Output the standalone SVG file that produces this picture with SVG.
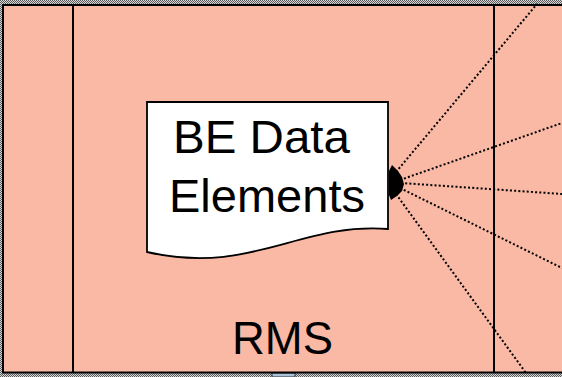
<svg xmlns="http://www.w3.org/2000/svg" width="562" height="377" viewBox="0 0 562 377">
<style>
.lane{stroke:#000;stroke-width:2;fill:none}
.dot{stroke:#000;stroke-width:2;stroke-dasharray:2 2.2;fill:none}
.lbl{font-family:"Liberation Sans",Arial,sans-serif;fill:#000;font-size:47px}
</style>
<defs>
<pattern id="chk" width="2" height="2" patternUnits="userSpaceOnUse">
<rect width="2" height="2" fill="#d8d8d8"/>
<rect width="1" height="1" fill="#5a5a5a"/>
<rect x="1" y="1" width="1" height="1" fill="#5a5a5a"/>
</pattern>
</defs>
<rect width="562" height="377" fill="url(#chk)"/>
<rect x="272" y="373" width="23" height="4" fill="#a9c2da" stroke="#333" stroke-width="1"/>
<g id="rms">
<rect x="3" y="5" width="562" height="367.5" fill="#f9b9a5" stroke="#000" stroke-width="2"/>
<line class="lane" x1="73" y1="5" x2="73" y2="372.5"/>
<line class="lane" x1="494" y1="5" x2="494" y2="372.5"/>
<text class="lbl" x="232" y="354" textLength="101" lengthAdjust="spacingAndGlyphs">RMS</text>
</g>
<g id="connectors">
<line class="dot" x1="396" y1="172" x2="537" y2="4"/>
<line class="dot" x1="400" y1="180" x2="562" y2="123"/>
<line class="dot" x1="401" y1="183" x2="562" y2="194"/>
<line class="dot" x1="400" y1="188" x2="562" y2="268"/>
<line class="dot" x1="396" y1="194" x2="526" y2="373"/>
<path d="M389,171 L392,165 L398,171 L402,177 L404,184 L402,191 L397,196 L391,200 L389,195 Z" fill="#000"/>
</g>
<g id="be-data-elements">
<path d="M147,102 H388 V229 C300,222 250,276 147,252 Z" fill="#fff" stroke="#000" stroke-width="1.8"/>
<text class="lbl" x="173" y="153" textLength="177" lengthAdjust="spacingAndGlyphs">BE Data</text>
<text class="lbl" x="169" y="212" textLength="196" lengthAdjust="spacingAndGlyphs">Elements</text>
</g>
</svg>
